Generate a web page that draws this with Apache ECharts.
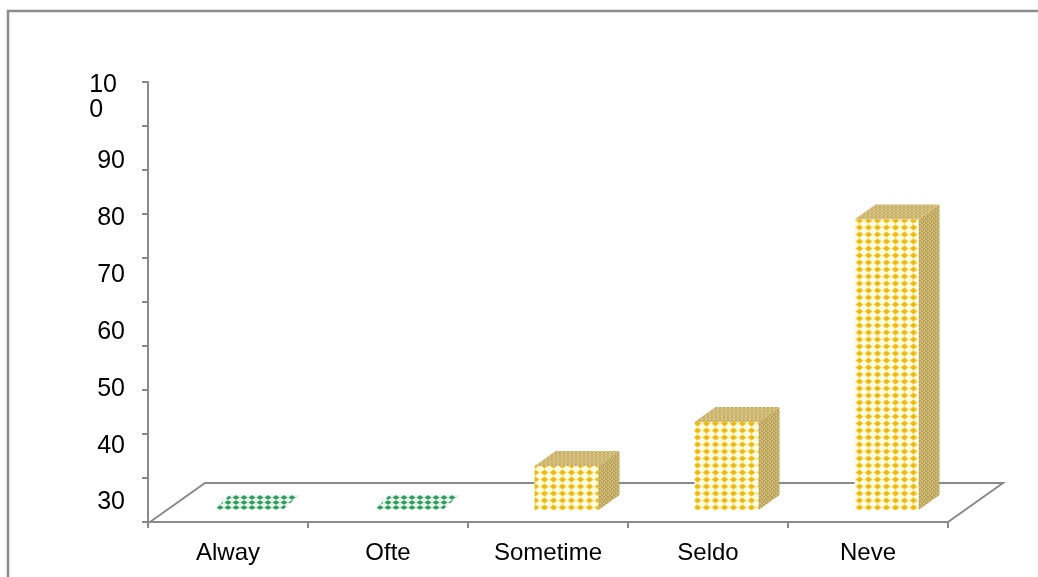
<!DOCTYPE html>
<html>
<head>
<meta charset="utf-8">
<style>
  html, body { margin: 0; padding: 0; background: #ffffff; }
  #chart { width: 1038px; height: 577px; }
</style>
<script src="https://cdn.jsdelivr.net/npm/echarts@6/dist/echarts.min.js"></script>
</head>
<body>
<div id="chart"></div>
<script>
// Response categories (as printed on the axis) and share of answers
const categories = ['Alway', 'Ofte', 'Sometime', 'Seldo', 'Neve'];
const shares = [0, 0, 10, 20, 66];
// Values printed along the vertical axis
const tickLabels = [30, 40, 50, 60, 70, 80, 90, 100];

// Depth of the 3D floor and of each block, in pixels
const FLOOR_DX = 55, FLOOR_DY = 39;
const BAR_FRONT_DX = 18.5, BAR_FRONT_DY = 12;
const BAR_DX = 21, BAR_DY = 15;

function makeTile(w, h, draw) {
  const c = document.createElement('canvas');
  c.width = w; c.height = h;
  draw(c.getContext('2d'), w, h);
  return { image: c, repeat: 'repeat' };
}
function diamond(ctx, cx, cy, rx, ry) {
  ctx.beginPath();
  ctx.moveTo(cx - rx, cy); ctx.lineTo(cx, cy - ry);
  ctx.lineTo(cx + rx, cy); ctx.lineTo(cx, cy + ry);
  ctx.closePath(); ctx.fill();
}
// Gold diamonds on cream for the front faces
const frontFill = makeTile(9, 7, (ctx, w, h) => {
  ctx.fillStyle = '#fffde2'; ctx.fillRect(0, 0, w, h);
  ctx.fillStyle = '#f7d35a'; diamond(ctx, 4.5, 3.5, 4.2, 3.3);
  ctx.fillStyle = '#efb812'; diamond(ctx, 4.5, 3.5, 3, 2.4);
});
// Olive weave for the side faces
const sideFill = makeTile(4, 4, (ctx) => {
  const cols = [['#b39f58', '#dcc455', '#c6a88c', '#a89a5c'],
                ['#d8c060', '#b0a060', '#e2cc58', '#bfa48a'],
                ['#c4a98e', '#aa9c5a', '#d4bc52', '#b59f60'],
                ['#e0c85a', '#bca68c', '#a99b58', '#d6c05c']];
  for (let i = 0; i < 4; i++) for (let j = 0; j < 4; j++) {
    ctx.fillStyle = cols[j][i]; ctx.fillRect(i, j, 1, 1);
  }
});
// Slightly lighter weave for the top faces
const topFill = makeTile(4, 3, (ctx) => {
  const cols = [['#c9b46a', '#e4cf60', '#cdb094', '#bfae66'],
                ['#e2cc62', '#c2ad70', '#d8c06a', '#d0b898'],
                ['#bca868', '#d9c99a', '#e6d064', '#c4aa80']];
  for (let i = 0; i < 4; i++) for (let j = 0; j < 3; j++) {
    ctx.fillStyle = cols[j][i]; ctx.fillRect(i, j, 1, 1);
  }
});
// Green checks for empty categories
const flatFill = makeTile(8, 5, (ctx, w, h) => {
  ctx.fillStyle = '#e6f4ea'; ctx.fillRect(0, 0, w, h);
  ctx.fillStyle = '#2f9a5e'; diamond(ctx, 4, 2.5, 3.6, 2.2);
});

const chart = echarts.init(document.getElementById('chart'), null, { renderer: 'canvas' });

const axisGrey = '#8a8a8a';
const textFont = 'Liberation Sans, Arial, sans-serif';

chart.setOption({
  backgroundColor: '#ffffff',
  animation: false,
  graphic: [{
    type: 'rect', z: -10,
    shape: { x: 8, y: 11, width: 1200, height: 800 },
    style: { fill: 'none', stroke: '#8c8c8c', lineWidth: 2.5 }
  }],
  grid: { left: 148, right: 90, top: 82, bottom: 55 },
  xAxis: {
    type: 'category',
    data: categories,
    boundaryGap: true,
    axisLine: { lineStyle: { color: axisGrey, width: 2 } },
    axisTick: { show: true, length: 6, lineStyle: { color: axisGrey, width: 2 } },
    axisLabel: {
      color: '#000', fontFamily: textFont,
      fontSize: 24, margin: 19, interval: 0
    }
  },
  yAxis: [{
    // scale used for ticks and block heights
    type: 'value', min: 0, max: 100, interval: 10,
    position: 'left',
    axisLine: { show: true, lineStyle: { color: axisGrey, width: 2 } },
    axisTick: { show: true, length: 6, lineStyle: { color: axisGrey, width: 2 } },
    axisLabel: { show: false },
    splitLine: { show: false }
  }, {
    // printed values along the axis
    type: 'value', min: 26.57, max: 103.99,
    position: 'left',
    axisLine: { show: false },
    axisTick: { show: false },
    splitLine: { show: false },
    axisLabel: {
      customValues: tickLabels,
      margin: 23,
      color: '#000', fontFamily: textFont, fontSize: 25,
      formatter: v => {
        const s = String(v);
        return s.length > 2
          ? '{a|' + s.slice(0, 2) + '}{s|}\n{a|' + s.slice(2) + '}\n{e|}'
          : s;
      },
      rich: {
        a: { align: 'left', fontSize: 25, lineHeight: 25, color: '#000', fontFamily: textFont },
        s: { width: 8 },
        e: { height: 14, lineHeight: 14 }
      }
    }
  }],
  series: [{
    // floor of the 3D plot area
    type: 'custom',
    z: 1,
    data: [0],
    renderItem: (params, api) => {
      const cs = params.coordSys;
      const x0 = cs.x + 2, x1 = cs.x + cs.width, yb = cs.y + cs.height;
      return {
        type: 'polyline',
        shape: { points: [[x0, yb], [x0 + FLOOR_DX, yb - FLOOR_DY],
                          [x1 + FLOOR_DX, yb - FLOOR_DY], [x1, yb]] },
        style: { stroke: axisGrey, lineWidth: 2, fill: 'none' }
      };
    }
  }, {
    // 3D blocks
    type: 'custom',
    z: 5,
    data: shares.map((v, i) => [i, v]),
    renderItem: (params, api) => {
      const base = api.coord([api.value(0), 0]);
      const top = api.coord([api.value(0), api.value(1)]);
      const w = api.size([1, 0])[0] * 0.4;
      const xl = base[0] - w / 2 + BAR_FRONT_DX, xr = xl + w;
      const yb = base[1] - BAR_FRONT_DY, yt = top[1] - BAR_FRONT_DY;
      if (yb - yt < 1) {
        return {
          type: 'polygon',
          shape: { points: [[xl, yb], [xr + 4, yb], [xr + BAR_DX, yb - BAR_DY], [xl + BAR_DX - 6, yb - BAR_DY]] },
          style: { fill: flatFill }
        };
      }
      return {
        type: 'group',
        children: [{
          type: 'polygon',
          shape: { points: [[xr, yt], [xr + BAR_DX, yt - BAR_DY], [xr + BAR_DX, yb - BAR_DY], [xr, yb]] },
          style: { fill: sideFill }
        }, {
          type: 'polygon',
          shape: { points: [[xl, yt], [xr, yt], [xr + BAR_DX, yt - BAR_DY], [xl + BAR_DX, yt - BAR_DY]] },
          style: { fill: topFill }
        }, {
          type: 'rect',
          shape: { x: xl, y: yt, width: w, height: yb - yt },
          style: { fill: frontFill }
        }]
      };
    }
  }]
});
</script>
</body>
</html>
